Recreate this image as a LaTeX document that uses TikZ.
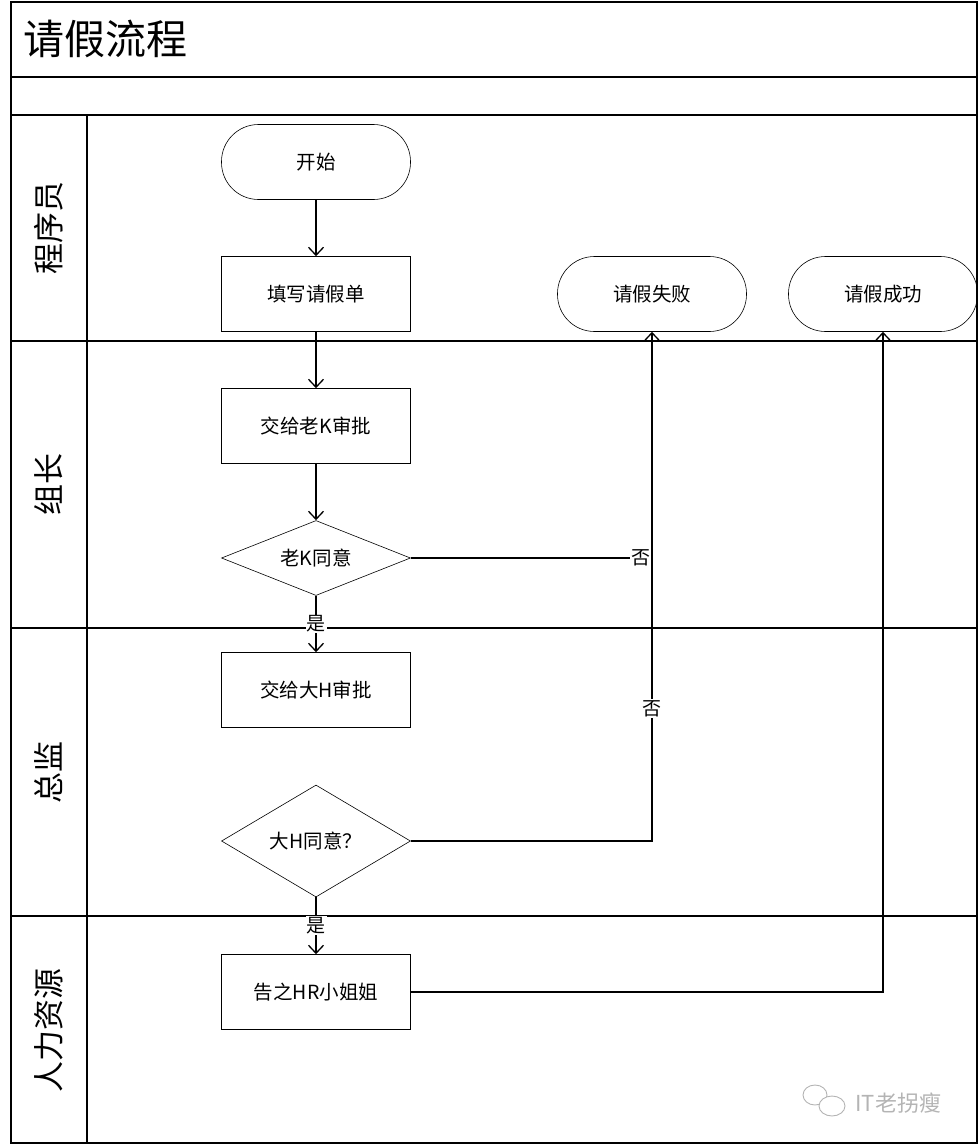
\documentclass[tikz,border=0pt]{standalone}
\usepackage{fontspec}
\setmainfont{Noto Sans CJK SC}
\usetikzlibrary{positioning,shapes.geometric,arrows.meta}
\definecolor{markgray}{HTML}{B4B4B4}

\tikzset{
  frameline/.style={line width=1.3pt},
  stepbox/.style={draw, line width=0.6pt, minimum width=189pt, minimum height=75pt,
                  inner sep=0pt, font=\fontsize{19.5}{22}\selectfont},
  endbox/.style={stepbox, rounded corners=37pt},
  checkbox/.style={stepbox, diamond, aspect=2.5},
  flow/.style={line width=1.3pt, -{Straight Barb[length=8pt,width=15pt,line width=1.3pt]}},
  tag/.style={fill=white, inner sep=1pt, font=\fontsize{19}{22}\selectfont},
  lanename/.style={rotate=90, font=\fontsize{31}{34}\selectfont}
}

\begin{document}
\begin{tikzpicture}[x=1pt, y=-1pt]
  \useasboundingbox (0,0) rectangle (979,1146);

  % pool and lanes
  \draw[frameline] (11,2) rectangle (977,1143);
  \foreach \y in {77,115,341,628,916}
    \draw[frameline] (11,\y) -- (977,\y);
  \draw[frameline] (87,115) -- (87,1143);

  \node[anchor=west, font=\fontsize{41}{45}\selectfont] (title) at (20,39) {请假流程};
  \node[lanename] (coder) at (49,228) {程序员};
  \node[lanename] (lead) at (49,484) {组长};
  \node[lanename] (boss) at (49,772) {总监};
  \node[lanename] (hrlane) at (49,1030) {人力资源};

  % steps
  \node[endbox] (start) at (316,162) {开始};
  \node[stepbox] (form) at (316,294) {填写请假单};
  \node[endbox] (fail) at (652,294) {请假失败};
  \node[endbox] (win) at (883,294) {请假成功};
  \node[stepbox] (kapprove) at (316,426) {交给老K审批};
  \node[checkbox] (kcheck) at (316,558) {老K同意};
  \node[stepbox] (happrove) at (316,690) {交给大H审批};
  \node[checkbox, minimum height=112pt] (hcheck) at (316,841) {大H同意？};
  \node[stepbox] (hr) at (316,992) {告之HR小姐姐};

  % connectors
  \draw[flow] (start) -- (form);
  \draw[flow] (form) -- (kapprove);
  \draw[flow] (kapprove) -- (kcheck);
  \draw[flow] (kcheck) -- node[tag]{是} (happrove);
  \draw[line width=1.3pt] (kcheck.east) -- (fail.south |- kcheck.east)
    node[tag, anchor=east]{否};
  \draw[flow] (hcheck.east) -| node[tag, pos=0.63]{否} (fail.south);
  \draw[flow] (hcheck) -- node[tag]{是} (hr);
  \draw[flow] (hr.east) -| (win.south);

  % watermark
  \draw[markgray, line width=0.9pt] (815,1095) ellipse (12 and 10);
  \draw[markgray, line width=0.9pt, fill=white] (832,1106) ellipse (13 and 10);
  \node[text=markgray, anchor=west, font=\fontsize{22}{25}\selectfont] (mark) at (852,1103) {IT老拐瘦};
\end{tikzpicture}
\end{document}
